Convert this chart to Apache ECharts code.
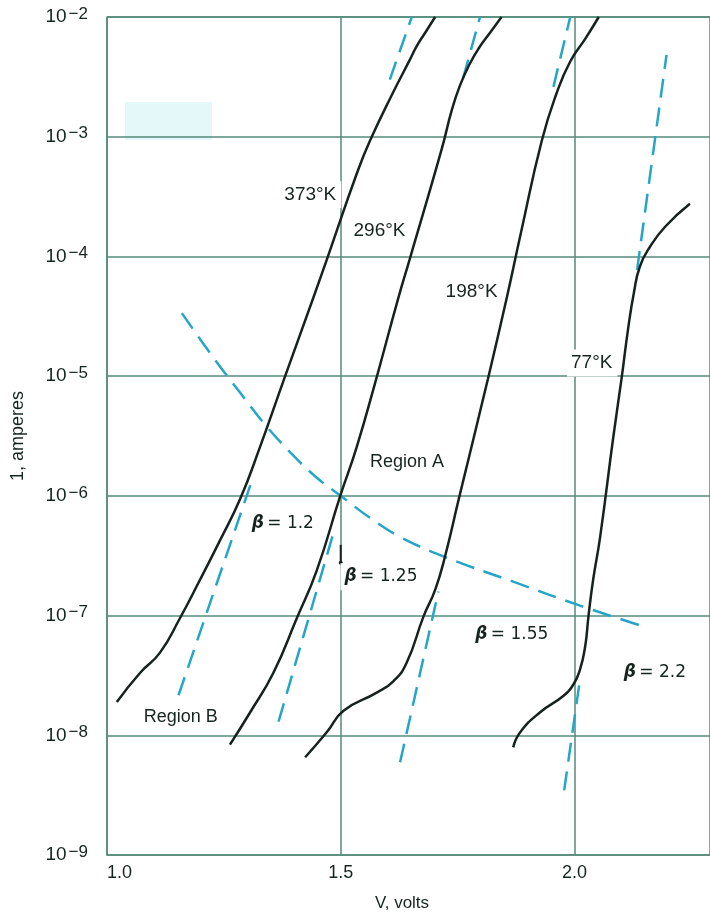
<!DOCTYPE html>
<html>
<head>
<meta charset="utf-8">
<script src="https://cdn.jsdelivr.net/npm/echarts@6/dist/echarts.min.js"></script>
<style>
  html, body { margin: 0; padding: 0; background: #ffffff; }
  #chart { width: 710px; height: 917px; }
</style>
</head>
<body>
<div id="chart"></div>
<script>
// Forward current–voltage characteristics of a junction at four temperatures,
// with the ideality-factor asymptotes (dashed) and the Region A / B boundary.

// ---- axes ----
const voltMin = 1.0;
const voltMax = 2.29;
const voltStep = 0.5;
const currentMin = 1e-9;
const currentMax = 1e-2;

// ---- measured curves: [V (volts), I (amperes)] ----
const curve373K = [
  [1.021, 1.90e-8], [1.071, 3.33e-8], [1.113, 4.88e-8], [1.156, 9.5e-8],
  [1.199, 1.99e-7], [1.242, 4.27e-7], [1.285, 9.44e-7], [1.327, 2.54e-6],
  [1.379, 9.5e-6], [1.441, 4.47e-5], [1.471, 9.6e-5], [1.535, 5.0e-4],
  [1.563, 9.33e-4], [1.612, 2.34e-3], [1.648, 4.40e-3], [1.662, 5.66e-3],
  [1.680, 7.32e-3], [1.702, 1.0e-2]
];
const curve296K = [
  [1.263, 8.35e-9], [1.306, 1.55e-8], [1.356, 3.33e-8], [1.406, 9.5e-8],
  [1.449, 2.40e-7], [1.499, 1.0e-6], [1.534, 2.54e-6], [1.576, 9.5e-6],
  [1.623, 4.47e-5], [1.648, 9.6e-5], [1.716, 7.87e-4], [1.738, 1.69e-3],
  [1.755, 2.67e-3], [1.775, 3.99e-3], [1.796, 5.53e-3], [1.819, 7.36e-3],
  [1.844, 1.0e-2]
];
const curve198K = [
  [1.424, 6.55e-9], [1.470, 1.06e-8], [1.506, 1.60e-8], [1.577, 2.27e-8],
  [1.613, 2.84e-8], [1.641, 4.03e-8], [1.677, 9.8e-8], [1.702, 1.64e-7],
  [1.723, 3.10e-7], [1.753, 9.57e-7], [1.815, 9.5e-6], [1.855, 4.47e-5],
  [1.886, 1.61e-4], [1.930, 9.22e-4], [1.962, 2.32e-3], [1.991, 4.25e-3],
  [2.023, 6.56e-3], [2.052, 1.0e-2]
];
const curve77K = [
  [1.869, 7.93e-9], [1.884, 1.06e-8], [1.926, 1.55e-8], [1.976, 2.13e-8],
  [1.998, 2.67e-8], [2.012, 3.55e-8], [2.023, 5.54e-8], [2.030, 9.85e-8],
  [2.040, 1.99e-7], [2.055, 4.54e-7], [2.083, 3.07e-6], [2.101, 9.68e-6],
  [2.115, 2.52e-5], [2.127, 4.92e-5], [2.140, 8.24e-5], [2.162, 1.21e-4],
  [2.194, 1.77e-4], [2.247, 2.75e-4]
];

// ---- low-current asymptotes (exp(qV / beta kT)) ----
const lowFit373K = [[1.153, 2.16e-8], [1.310, 1.34e-6]];
const lowFit296K = [[1.367, 1.30e-8], [1.484, 4.84e-7]];
const lowFit198K = [[1.627, 5.95e-9], [1.709, 1.59e-7]];
const lowFit77K  = [[1.978, 3.47e-9], [2.012, 2.95e-8]];

// ---- high-current asymptotes ----
const highFit373K = [[1.605, 3.0e-3], [1.652, 1.0e-2]];
const highFit296K = [[1.762, 3.10e-3], [1.798, 1.0e-2]];
const highFit198K = [[1.955, 2.61e-3], [1.991, 1.0e-2]];
const highFit77K  = [[2.134, 7.7e-5], [2.197, 4.83e-3]];

// ---- boundary between Region A and Region B ----
const regionBoundary = [
  [1.160, 3.36e-5], [1.231, 1.37e-5], [1.285, 7.26e-6], [1.338, 3.94e-6],
  [1.392, 2.31e-6], [1.445, 1.46e-6], [1.500, 1.0e-6], [1.563, 6.53e-7],
  [1.627, 4.54e-7], [1.727, 3.04e-7], [1.869, 1.92e-7], [2.012, 1.21e-7],
  [2.147, 8.13e-8]
];

// ---- pointer from the beta = 1.25 note up to the 1.5 V line ----
const betaPointer = [[1.5, 3.9e-7], [1.5, 2.76e-7]];

// ---- annotations ----
const tempLabels = ['373°K', '296°K', '198°K', '77°K'];
const tempLabelAt = [[1.436, 3.27e-4], [1.584, 1.64e-4], [1.781, 5.11e-5], [2.038, 1.29e-5]];
const betaValues = ['1.2', '1.25', '1.55', '2.2'];
const betaLabelAt = [[1.374, 5.82e-7], [1.584, 2.11e-7], [1.864, 6.97e-8], [2.170, 3.37e-8]];
const regionLabels = ['Region A', 'Region B'];
const regionLabelAt = [[1.642, 1.91e-6], [1.158, 1.43e-8]];

const INK = '#16241e';
const CURVE = '#17221e';
const GRID = '#558a7a';
const DASH = '#26a6c6';
const SANS = 'Liberation Sans';

function solid(name, data) {
  return {
    name, type: 'line', data, smooth: 0.5, showSymbol: false, silent: true,
    lineStyle: { color: CURVE, width: 2.5 }, z: 3
  };
}
function dashed(name, data, smooth) {
  return {
    name, type: 'line', data, smooth: smooth || false, showSymbol: false, silent: true,
    lineStyle: { color: DASH, width: 2.5, type: [19, 10], cap: 'butt' }, z: 2
  };
}

const textItems = [];
tempLabels.forEach((t, i) => textItems.push({
  value: tempLabelAt[i],
  label: {
    formatter: t, fontFamily: SANS, fontSize: 19, color: INK,
    backgroundColor: '#ffffff', padding: [4, 5, 4, 4]
  }
}));
betaValues.forEach((b, i) => textItems.push({
  value: betaLabelAt[i],
  label: {
    formatter: '{g|β} {t|= ' + b + '}',
    backgroundColor: i === 1 ? '#ffffff' : 'transparent',
    padding: [5, 2, 5, 4],
    rich: {
      g: { fontFamily: 'DejaVu Sans', fontStyle: 'italic', fontWeight: 'bold', fontSize: 17, color: INK },
      t: { fontFamily: 'DejaVu Sans', fontSize: 17, color: INK }
    }
  }
}));
regionLabels.forEach((r, i) => textItems.push({
  value: regionLabelAt[i],
  label: { formatter: r, fontFamily: SANS, fontSize: 18, color: INK }
}));

const chart = echarts.init(document.getElementById('chart'), null, { renderer: 'canvas' });

chart.setOption({
  backgroundColor: '#ffffff',
  animation: false,
  grid: { left: 107, right: 0, top: 17, bottom: 57, containLabel: false },
  graphic: [{
    type: 'rect', left: 125, top: 102, silent: true,
    shape: { width: 87, height: 38 },
    style: { fill: 'rgba(196,238,242,0.45)' }
  }],
  xAxis: {
    type: 'value', min: voltMin, max: voltMax, interval: voltStep,
    name: 'V, volts', nameLocation: 'middle', nameGap: 40,
    nameTextStyle: { fontFamily: SANS, fontSize: 17, color: INK, padding: [0, 13, 0, 0] },
    axisLine: { show: true, lineStyle: { color: GRID, width: 1.5 } },
    axisTick: { show: false },
    splitLine: { show: true, lineStyle: { color: GRID, width: 1.5 } },
    axisLabel: {
      margin: 9, fontFamily: SANS, fontSize: 18, color: INK,
      showMaxLabel: false, alignMinLabel: 'left',
      formatter: v => v.toFixed(1)
    }
  },
  yAxis: {
    type: 'log', logBase: 10, min: currentMin, max: currentMax, splitNumber: 7,
    name: '1, amperes', nameLocation: 'middle', nameGap: 80, nameRotate: 90,
    nameTextStyle: { fontFamily: SANS, fontSize: 18, color: INK },
    axisLine: { show: true, lineStyle: { color: GRID, width: 1.5 } },
    axisTick: { show: false },
    splitLine: { show: true, lineStyle: { color: GRID, width: 1.5 } },
    axisLabel: {
      margin: 19,
      formatter: v => '{a|10}{b|−' + Math.abs(Math.round(Math.log10(v))) + '}',
      rich: {
        a: { fontFamily: SANS, fontSize: 19, color: INK, lineHeight: 23, padding: [0, 2, 0, 0] },
        b: { fontFamily: SANS, fontSize: 17, color: INK, lineHeight: 17, verticalAlign: 'top' }
      }
    }
  },
  series: [
    dashed('boundary', regionBoundary, 0.4),
    dashed('low 373', lowFit373K),
    dashed('low 296', lowFit296K),
    dashed('low 198', lowFit198K),
    dashed('low 77', lowFit77K),
    dashed('high 373', highFit373K),
    dashed('high 296', highFit296K),
    dashed('high 198', highFit198K),
    dashed('high 77', highFit77K),
    solid('373°K', curve373K),
    solid('296°K', curve296K),
    solid('198°K', curve198K),
    solid('77°K', curve77K),
    {
      name: 'pointer', type: 'line', silent: true, z: 4,
      data: [
        { value: betaPointer[0], symbol: 'none' },
        { value: betaPointer[1], symbol: 'circle', symbolSize: 4 }
      ],
      showSymbol: true,
      itemStyle: { color: CURVE },
      lineStyle: { color: CURVE, width: 2 }
    },
    {
      name: 'annotations', type: 'scatter', silent: true, z: 6,
      symbolSize: 0, data: textItems,
      itemStyle: { opacity: 1 },
      label: { show: true, position: 'inside' }
    }
  ]
});
</script>
</body>
</html>
